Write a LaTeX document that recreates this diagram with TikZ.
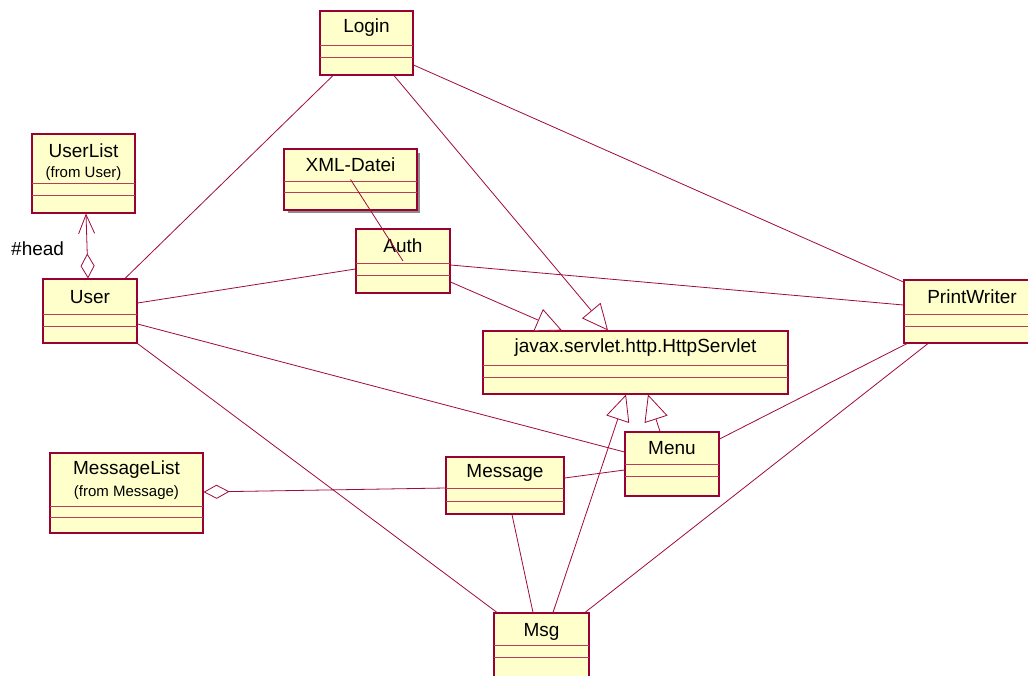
\documentclass[tikz,border=0pt]{standalone}
\usepackage{fontspec}
\setmainfont{Liberation Sans}
\usetikzlibrary{arrows.meta,fit}
\definecolor{umlborder}{RGB}{153,0,51}
\definecolor{umlcomp}{RGB}{185,60,90}
\definecolor{umlfill}{RGB}{255,255,204}
\definecolor{umlline}{RGB}{160,10,60}
\tikzset{
  cls/.style={draw=umlborder, fill=umlfill, line width=1.1pt, inner sep=0pt},
  comp/.style={draw=umlcomp, line width=0.9pt},
  lbl/.style={inner sep=0pt, font=\fontsize{19}{21}\selectfont, text=black},
  sublbl/.style={inner sep=0pt, font=\fontsize{15}{17}\selectfont, text=black},
  conn/.style={draw=umlline, line width=0.8pt},
  gen/.style={conn, -{Triangle[open, fill=white, length=26pt, width=24pt]}},
  agg/.style={conn, {Diamond[open, fill=white, length=26pt, width=14pt]}-},
  aggnav/.style={conn, {Diamond[open, fill=white, length=25pt, width=14pt]}-{Straight Barb[length=19pt, width=16pt]}},
}
\newcommand\umlbox[7]{%
  \node[cls, fit={(#2,#3) (#4,#5)}] (#1) {};
  \draw[comp] (#2,#6) -- (#4,#6);
  \draw[comp] (#2,#7) -- (#4,#7);}
\begin{document}
\begin{tikzpicture}[x=1pt,y=-1pt]
\clip (0,0) rectangle (1028,675);
\fill[white] (0,0) rectangle (1028,675);
% shadow of XML-Datei
\fill[gray!90] (288,153) rectangle (420,213);
\umlbox{login}{320}{11}{413}{75}{45}{57}
\umlbox{userlist}{32}{134}{135}{213}{183}{195}
\umlbox{xml}{284}{149}{417}{210}{181}{192}
\umlbox{auth}{356}{229}{450}{293}{263}{275}
\umlbox{user}{43}{279}{137}{343}{314}{326}
\umlbox{pw}{904}{280}{1040}{343}{314}{326}
\umlbox{http}{483}{331}{788}{394}{365}{377}
\umlbox{menu}{625}{432}{719}{496}{464}{476}
\umlbox{msglist}{50}{453}{203}{533}{506}{517}
\umlbox{message}{446}{457}{564}{514}{488}{501}
\umlbox{msg}{494}{613}{589}{690}{645}{657}
% labels
\node[lbl] (loginT) at (366.5,28) {Login};
\node[lbl] (userlistT) at (83.5,151) {UserList};
\node[sublbl] (userlistS) at (83.5,174) {(from User)};
\node[lbl] (xmlT) at (350.5,165) {XML-Datei};
\node[lbl] (authT) at (403,246) {Auth};
\node[lbl] (userT) at (90,297) {User};
\node[lbl] (pwT) at (972,297) {PrintWriter};
\node[lbl] (httpT) at (635.5,348) {javax.servlet.http.HttpServlet};
\node[lbl] (menuT) at (672,448) {Menu};
\node[lbl] (msglistT) at (126.5,470) {MessageList};
\node[sublbl] (msglistS) at (126.5,493) {(from Message)};
\node[lbl] (messageT) at (505,473) {Message};
\node[lbl] (msgT) at (541.5,632) {Msg};
\node[lbl, anchor=west] (headT) at (11,249) {\#head};
% connectors
\draw[conn] ([xshift=-33.5pt]login.south) -- ([xshift=35pt]user.north);
\draw[gen] ([xshift=27.5pt]login.south) -- ([xshift=-27.5pt]http.north);
\draw[conn] ([yshift=-22pt]login.east) -- ([yshift=29.5pt]pw.west);
\draw[conn] (xml.center) -- (auth.center);
\draw[conn] ([yshift=-8pt]auth.west) -- ([yshift=8pt]user.east);
\draw[conn] ([yshift=-4pt]auth.east) -- ([yshift=6.5pt]pw.west);
\draw[gen] ([yshift=-21pt]auth.east) -- ([xshift=-73.5pt]http.north);
\draw[aggnav] ([xshift=-2pt]user.north) -- ([xshift=2.5pt]userlist.south);
\draw[conn] ([yshift=-13pt]user.east) -- ([yshift=12pt]menu.west);
\draw[conn] (user.south east) -- ([xshift=-44.5pt]msg.north);
\draw[agg] ([yshift=1pt]msglist.east) -- ([yshift=-2.5pt]message.west);
\draw[conn] ([yshift=7.5pt]message.east) -- ([yshift=-6pt]menu.west);
\draw[conn] ([xshift=7pt]message.south) -- ([xshift=-8.5pt]msg.north);
\draw[gen] ([xshift=11.5pt]msg.north) -- ([xshift=-9.5pt]http.south);
\draw[gen] ([xshift=-12pt]menu.north) -- ([xshift=12.5pt]http.south);
\draw[conn] ([yshift=25pt]menu.east) -- ([xshift=-65pt]pw.south);
\draw[conn] ([xshift=-44pt]pw.south) -- ([xshift=43.5pt]msg.north);
\end{tikzpicture}
\end{document}
